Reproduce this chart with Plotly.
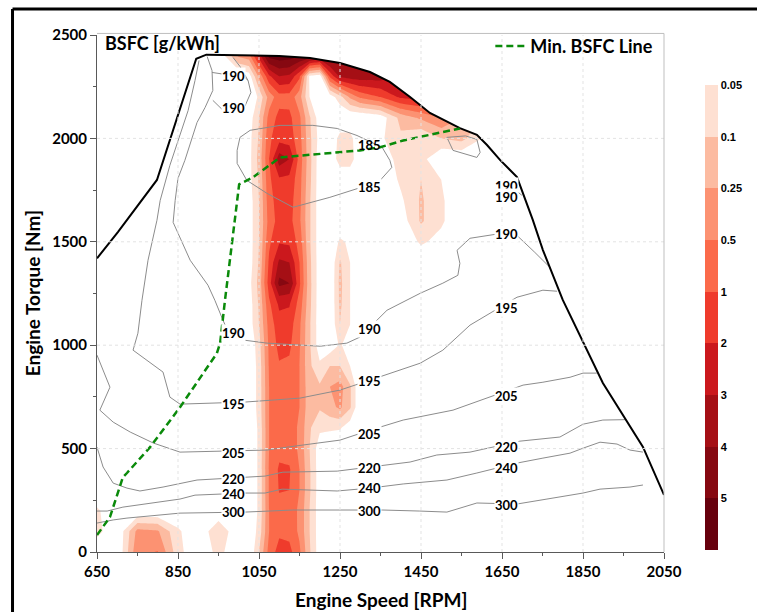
import numpy as np
import plotly.graph_objects as go

# ---------------- data ----------------
speed = [650, 700, 750, 800, 850, 900, 950, 1000, 1025, 1050, 1075, 1100, 1125, 1150,
         1175, 1200, 1225, 1250, 1275, 1300, 1350, 1400, 1450, 1500, 1550, 1600, 1650, 1700]
torque = [0, 100, 200, 300, 400, 500, 600, 700, 800, 900, 1000, 1100, 1200, 1300, 1400,
          1500, 1600, 1700, 1800, 1900, 2000, 2100, 2200, 2300, 2400]

# time share [%] per operating point (rows = torque, columns = speed)
freq = [
    [0, 0, 0.45, 0.52, 0.07, 0, 0.07, 0, 0, 0.1, 0.7, 1.4, 1.3, 0.6, 0.12, 0.02, 0, 0, 0, 0, 0, 0, 0, 0, 0, 0, 0, 0],
    [0.07, 0, 0.33, 0.28, 0.06, 0, 0.1, 0, 0, 0.07, 0.5, 0.9, 0.85, 0.45, 0.1, 0.02, 0, 0, 0, 0, 0, 0, 0, 0, 0, 0, 0, 0],
    [0.06, 0, 0, 0, 0, 0, 0, 0, 0, 0.06, 0.5, 0.85, 0.8, 0.45, 0.1, 0.02, 0, 0, 0, 0, 0, 0, 0, 0, 0, 0, 0, 0],
    [0, 0, 0, 0, 0, 0, 0, 0, 0, 0.06, 0.55, 1.05, 1.0, 0.5, 0.12, 0.02, 0, 0, 0, 0, 0, 0, 0, 0, 0, 0, 0, 0],
    [0, 0, 0, 0, 0, 0, 0, 0, 0, 0.06, 0.55, 1.15, 1.1, 0.5, 0.12, 0.02, 0, 0, 0, 0, 0, 0, 0, 0, 0, 0, 0, 0],
    [0, 0, 0, 0, 0, 0, 0, 0, 0, 0.06, 0.5, 0.85, 0.8, 0.45, 0.1, 0.02, 0, 0, 0, 0, 0, 0, 0, 0, 0, 0, 0, 0],
    [0, 0, 0, 0, 0, 0, 0, 0, 0, 0.06, 0.5, 0.85, 0.8, 0.45, 0.12, 0.06, 0.06, 0.055, 0.02, 0, 0, 0, 0, 0, 0, 0, 0, 0],
    [0, 0, 0, 0, 0, 0, 0, 0, 0, 0.07, 0.5, 0.9, 0.85, 0.5, 0.15, 0.12, 0.2, 0.3, 0.12, 0, 0, 0, 0, 0, 0, 0, 0, 0],
    [0, 0, 0, 0, 0, 0, 0, 0, 0, 0.07, 0.5, 0.9, 0.85, 0.5, 0.15, 0.12, 0.25, 0.35, 0.12, 0, 0, 0, 0, 0, 0, 0, 0, 0],
    [0, 0, 0, 0, 0, 0, 0, 0, 0, 0.07, 0.55, 0.95, 0.9, 0.5, 0.13, 0.06, 0.1, 0.1, 0.05, 0, 0, 0, 0, 0, 0, 0, 0, 0],
    [0, 0, 0, 0, 0, 0, 0, 0, 0, 0.08, 0.6, 1.3, 1.2, 0.55, 0.12, 0.02, 0.02, 0.055, 0.03, 0, 0, 0, 0, 0, 0, 0, 0, 0],
    [0, 0, 0, 0, 0, 0, 0, 0, 0.02, 0.1, 0.7, 1.6, 1.5, 0.6, 0.12, 0.02, 0, 0.1, 0.05, 0, 0, 0, 0, 0, 0, 0, 0, 0],
    [0, 0, 0, 0, 0, 0, 0, 0, 0.02, 0.12, 0.9, 2.2, 2.1, 0.8, 0.14, 0.02, 0, 0.13, 0.05, 0, 0, 0, 0, 0, 0, 0, 0, 0],
    [0, 0, 0, 0, 0, 0, 0, 0, 0.03, 0.15, 1.5, 4.3, 4.0, 1.2, 0.15, 0.02, 0, 0.14, 0.05, 0, 0, 0, 0, 0, 0, 0, 0, 0],
    [0, 0, 0, 0, 0, 0, 0, 0, 0.02, 0.12, 1.2, 3.2, 3.0, 1.0, 0.14, 0.02, 0, 0.12, 0.05, 0, 0, 0, 0, 0, 0, 0, 0, 0],
    [0, 0, 0, 0, 0, 0, 0, 0, 0.02, 0.1, 0.9, 1.9, 1.8, 0.8, 0.12, 0.02, 0, 0.06, 0.04, 0, 0, 0, 0.06, 0.03, 0, 0, 0, 0],
    [0, 0, 0, 0, 0, 0, 0, 0, 0.02, 0.1, 0.7, 1.4, 1.35, 0.6, 0.12, 0.02, 0, 0, 0, 0, 0, 0.02, 0.12, 0.06, 0, 0, 0, 0],
    [0, 0, 0, 0, 0, 0, 0, 0, 0.02, 0.1, 0.8, 1.5, 1.45, 0.65, 0.12, 0.02, 0, 0, 0, 0, 0, 0.04, 0.12, 0.06, 0, 0, 0, 0],
    [0, 0, 0, 0, 0, 0, 0, 0, 0.03, 0.12, 0.9, 1.8, 1.7, 0.7, 0.14, 0.02, 0, 0, 0, 0, 0, 0.06, 0.1, 0.05, 0, 0, 0, 0],
    [0, 0, 0, 0, 0, 0, 0, 0, 0.03, 0.15, 1.0, 3.6, 3.0, 0.8, 0.15, 0.02, 0, 0.08, 0.08, 0, 0, 0.08, 0.07, 0, 0, 0, 0, 0],
    [0, 0, 0, 0, 0, 0, 0, 0, 0.03, 0.12, 0.9, 1.6, 1.5, 0.7, 0.14, 0.03, 0, 0.07, 0.07, 0, 0.04, 0.09, 0.05, 0.1, 0.15, 0.05, 0, 0],
    [0, 0, 0, 0, 0, 0, 0, 0, 0.02, 0.1, 0.7, 1.3, 1.25, 0.6, 0.12, 0.02, 0, 0, 0, 0, 0.02, 0.15, 0.3, 0.5, 0.25, 0.1, 0, 0],
    [0, 0, 0, 0, 0, 0, 0, 0, 0, 0.06, 0.35, 0.8, 0.8, 0.35, 0.05, 0, 0.02, 0.08, 0.3, 0.6, 1.0, 2.2, 2.5, 1.5, 0.4, 0.1, 0, 0],
    [0, 0, 0, 0, 0, 0, 0, 0, 0.02, 0.3, 1.8, 3.0, 2.8, 1.2, 0.04, 0.02, 1.2, 3.2, 3.5, 3.6, 3.5, 3.0, 2.5, 1.5, 0.5, 0.2, 0, 0],
    [0, 0, 0, 0, 0, 0, 0, 0.3, 0.4, 2.5, 7, 8, 7.5, 5.5, 5, 4.5, 5, 4.5, 4, 4, 3.5, 3, 2.5, 1.5, 0.5, 0.2, 0, 0],
]

freq_levels = [0.05, 0.1, 0.25, 0.5, 1, 2, 3, 4, 5]
freq_labels = ["0.05", "0.1", "0.25", "0.5", "1", "2", "3", "4", "5"]
band_colors = ["#fee0d2", "#fcbba1", "#fc9272", "#fb6a4a", "#ef3b2c",
               "#cb181d", "#a50f15", "#860811", "#67000d"]

# full load curve
fl_rpm = [650, 702, 798, 895, 920, 1100, 1176, 1250, 1324, 1373, 1423, 1472, 1546, 1588,
          1613, 1645, 1687, 1726, 1751, 1800, 1899, 1998, 2050]
fl_nm = [1420, 1548, 1799, 2385, 2405, 2399, 2389, 2365, 2321, 2273, 2200, 2123, 2050, 2017,
         1968, 1896, 1813, 1606, 1460, 1219, 817, 508, 276]

# min BSFC line
minb_rpm = [650, 682, 714, 724, 781, 855, 946, 954, 966, 991, 1001, 1035, 1102, 1299, 1349, 1406, 1546]
minb_nm = [82, 169, 362, 382, 507, 700, 961, 1010, 1217, 1604, 1778, 1812, 1908, 1942, 1957, 1990, 2048]

# BSFC iso-lines [g/kWh]
b300_rpm = [650, 690, 724, 855, 1015, 1134, 1250, 1356, 1447, 1514, 1588, 1687, 1761, 1850, 1892, 1966, 1998]
b300_nm = [140, 155, 164, 188, 193, 203, 203, 203, 198, 193, 237, 232, 256, 285, 304, 314, 324]
b240_rpm = [650, 675, 714, 855, 892, 1015, 1065, 1107, 1243, 1324, 1406, 1514, 1588, 1687, 1751, 1818, 1850, 1892, 1934, 1966, 1998]
b240_nm = [198, 198, 217, 256, 275, 285, 285, 304, 295, 309, 329, 348, 382, 430, 454, 478, 502, 531, 522, 493, 483]
b220_rpm = [650, 665, 690, 724, 756, 813, 897, 1015, 1065, 1109, 1243, 1324, 1423, 1489, 1571, 1694, 1793, 1850, 1899, 1955]
b220_nm = [507, 411, 333, 309, 295, 314, 348, 362, 367, 386, 391, 411, 435, 469, 483, 536, 556, 618, 638, 640]
b205_rpm = [650, 682, 657, 690, 732, 789, 855, 1015, 1070, 1119, 1250, 1324, 1406, 1529, 1596, 1702, 1751, 1818, 1850, 1884]
b205_nm = [952, 797, 686, 628, 580, 527, 483, 493, 493, 507, 541, 589, 638, 686, 734, 807, 821, 845, 865, 865]
b195_rpm = [902, 892, 875, 850, 830, 806, 798, 776, 761, 751, 739, 813, 830, 855, 1015, 1151, 1250, 1324, 1448, 1504, 1571, 1687, 1751, 1786]
b195_nm = [2377, 2280, 2135, 1990, 1870, 1700, 1604, 1411, 1217, 1058, 976, 870, 749, 715, 725, 744, 783, 831, 913, 976, 1097, 1232, 1266, 1261]
b190_rpm = [922, 934, 936, 917, 897, 887, 867, 850, 843, 838, 880, 924, 941, 961, 978, 1015, 1070, 1201, 1267, 1299,
            1366, 1448, 1504, 1541, 1546, 1539, 1571, 1633, 1689, 1731, 1769]
b190_nm = [2396, 2328, 2232, 2150, 2077, 2014, 1894, 1807, 1700, 1594, 1411, 1290, 1217, 1121, 1048, 1024, 1010, 995, 1010, 1039,
           1169, 1251, 1300, 1338, 1396, 1459, 1517, 1536, 1527, 1449, 1375]
b190b_rpm = [986, 1003, 1023, 1030, 1015, 959, 936]
b190b_nm = [2391, 2348, 2280, 2222, 2155, 2140, 2184]
b190c_rpm = [934, 1015, 1023]
b190c_nm = [2319, 2295, 2280]
b190d_rpm = [1687, 1699]
b190d_nm = [1744, 1725]
b185_rpm = [996, 1003, 1028, 1102, 1183, 1243, 1292, 1324, 1354, 1373, 1378, 1349, 1324, 1294, 1225, 1134, 1070, 1020, 996, 996]
b185_nm = [1942, 2005, 2039, 2063, 2063, 2048, 2014, 1985, 1957, 1894, 1860, 1797, 1773, 1758, 1715, 1667, 1734, 1797, 1879, 1942]
b185b_rpm = [1514, 1529, 1588, 1596, 1588, 1560, 1514]
b185b_nm = [2005, 1942, 1908, 1932, 1995, 2012, 2005]

lab_text = ["190", "190", "185", "185", "190", "190", "190", "190", "190", "195", "195", "195",
            "205", "205", "205", "220", "220", "220", "240", "240", "240", "300", "300", "300"]
lab_rpm = [986, 986, 1322, 1322, 1660, 1660, 1660, 986, 1322, 1660, 986, 1322,
           1660, 986, 1322, 1660, 986, 1322, 1660, 986, 1322, 1660, 986, 1322]
lab_nm = [2300, 2145, 1966, 1763, 1770, 1718, 1536, 1058, 1077, 1179, 715, 826,
          754, 478, 570, 507, 353, 406, 406, 280, 309, 227, 193, 198]

x_ticks = [650, 850, 1050, 1250, 1450, 1650, 1850, 2050]
y_ticks = [0, 500, 1000, 1500, 2000, 2500]

# ---------------- figure ----------------
FONT = "Lato"
fig = go.Figure()

# map frequencies onto band index (non-uniform levels -> uniform contour steps)
bounds = [0] + freq_levels + [10]
z_idx = np.interp(np.array(freq, dtype=float), bounds, np.arange(len(bounds)))
cols = ["#ffffff"] + band_colors
fill_scale = [[i / (len(cols) - 1), c] for i, c in enumerate(cols)]

fig.add_trace(go.Contour(
    x=speed, y=torque, z=z_idx,
    contours=dict(start=1, end=9, size=1, coloring="fill", showlines=False),
    colorscale=fill_scale, showscale=False, line=dict(width=0, smoothing=0),
    hoverinfo="skip",
))

# mask above the full load curve
fig.add_trace(go.Scatter(
    x=fl_rpm + [2050, 650], y=fl_nm + [2500, 2500], fill="toself",
    fillcolor="white", line=dict(width=0), mode="lines",
    showlegend=False, hoverinfo="skip",
))

iso = [(b300_rpm, b300_nm), (b240_rpm, b240_nm), (b220_rpm, b220_nm), (b205_rpm, b205_nm),
       (b195_rpm, b195_nm), (b190_rpm, b190_nm), (b190b_rpm, b190b_nm), (b190c_rpm, b190c_nm),
       (b190d_rpm, b190d_nm), (b185_rpm, b185_nm), (b185b_rpm, b185b_nm)]
for xs, ys in iso:
    fig.add_trace(go.Scatter(x=xs, y=ys, mode="lines",
                             line=dict(color="#8c8c8c", width=1),
                             showlegend=False, hoverinfo="skip"))

fig.add_trace(go.Scatter(x=fl_rpm, y=fl_nm, mode="lines",
                         line=dict(color="black", width=2),
                         showlegend=False, hoverinfo="skip"))

fig.add_trace(go.Scatter(x=minb_rpm, y=minb_nm, mode="lines", name="Min. BSFC Line",
                         line=dict(color="#0a8a0a", width=2.5, dash="7px,4px"),
                         showlegend=True, hoverinfo="skip"))

# discrete colour bar (light on top)
bar_scale = []
rev = band_colors[::-1]
for i, c in enumerate(rev):
    bar_scale.append([i / 9, c])
    bar_scale.append([(i + 1) / 9, c])
fig.add_trace(go.Scatter(
    x=[None], y=[None], mode="markers", showlegend=False, hoverinfo="skip",
    marker=dict(color=[0], cmin=0, cmax=9, colorscale=bar_scale, showscale=True,
                colorbar=dict(
                    tickmode="array", tickvals=list(range(9, 0, -1)), ticktext=freq_labels,
                    thickness=13, len=0.8986, lenmode="fraction", y=0.0039, yanchor="bottom",
                    x=1.0723, xanchor="left", xpad=0, ypad=0, outlinewidth=0,
                    ticks="", ticklen=0,
                    tickfont=dict(family="Liberation Sans", size=11, color="black", weight="bold"),
                )),
))

# contour labels
for t, xr, yn in zip(lab_text, lab_rpm, lab_nm):
    fig.add_annotation(x=xr, y=yn, text=t, showarrow=False,
                       font=dict(family=FONT, size=13, color="black", weight="bold"),
                       bgcolor=None if (t == "185" and yn > 1900) else "white",
                       borderpad=0)

shapes = []
for xv in x_ticks[1:-1]:
    shapes.append(dict(type="line", xref="x", yref="paper", x0=xv, x1=xv, y0=0, y1=1,
                       line=dict(color="#e3e3e3", width=1, dash="dot"), layer="above"))
for yv in y_ticks[1:-1]:
    shapes.append(dict(type="line", xref="paper", yref="y", x0=0, x1=1, y0=yv, y1=yv,
                       line=dict(color="#e3e3e3", width=1, dash="dot"), layer="above"))
# plot frame (top / right)
shapes.append(dict(type="line", xref="paper", yref="paper", x0=0, x1=1, y0=1.003, y1=1.003,
                   line=dict(color="#bfbfbf", width=1), layer="above"))
shapes.append(dict(type="line", xref="paper", yref="paper", x0=1, x1=1, y0=0, y1=1.003,
                   line=dict(color="#bfbfbf", width=1), layer="above"))
# outer black frame
shapes.append(dict(type="line", xref="paper", yref="paper", x0=-0.149, x1=1.3, y0=1.0502, y1=1.0502,
                   line=dict(color="black", width=3), layer="above"))
shapes.append(dict(type="line", xref="paper", yref="paper", x0=-0.149, x1=-0.149, y0=-0.3, y1=1.0502,
                   line=dict(color="black", width=3), layer="above"))

axis_font = dict(family=FONT, size=15, color="black", weight="bold")
fig.update_layout(
    width=757, height=612,
    margin=dict(l=97, r=93, t=35, b=60),
    paper_bgcolor="white", plot_bgcolor="white",
    shapes=shapes,
    showlegend=True,
    legend=dict(x=0.99, y=0.978, xanchor="right", yanchor="middle",
                bgcolor="rgba(0,0,0,0)", borderwidth=0,
                font=dict(family=FONT, size=18, color="black", weight="bold")),
    xaxis=dict(range=[650, 2050], tickmode="array", tickvals=x_ticks,
               showgrid=False, zeroline=False, showline=True, linecolor="#595959", linewidth=1,
               ticks="outside", ticklen=6, tickcolor="#595959",
               minor=dict(tickmode="linear", tick0=750, dtick=200, ticks="outside", ticklen=3, tickcolor="#595959", showgrid=False),
               tickfont=axis_font),
    yaxis=dict(range=[0, 2500], tickmode="array", tickvals=y_ticks,
               showgrid=False, zeroline=False, showline=True, linecolor="#595959", linewidth=1,
               ticks="outside", ticklen=6, tickcolor="#595959",
               minor=dict(tickmode="linear", tick0=250, dtick=500, ticks="outside", ticklen=3, tickcolor="#595959", showgrid=False),
               tickfont=axis_font),
)

fig.add_annotation(xref="paper", yref="paper", x=0.5, y=-0.0928, text="Engine Speed [RPM]",
                   showarrow=False, xanchor="center", yanchor="middle",
                   font=dict(family=FONT, size=19, color="black", weight="bold"))
fig.add_annotation(xref="paper", yref="paper", x=-0.1146, y=0.5005, text="Engine Torque [Nm]",
                   showarrow=False, xanchor="center", yanchor="middle", textangle=-90,
                   font=dict(family=FONT, size=19, color="black", weight="bold"))
fig.add_annotation(xref="paper", yref="paper", x=0.0106, y=0.9836, text="BSFC [g/kWh]",
                   showarrow=False, xanchor="left", yanchor="middle",
                   font=dict(family=FONT, size=18, color="black", weight="bold"))

fig.write_html("out.html", config={"displayModeBar": False},
               post_script="document.body.style.margin='0';document.body.style.overflow='hidden';")
